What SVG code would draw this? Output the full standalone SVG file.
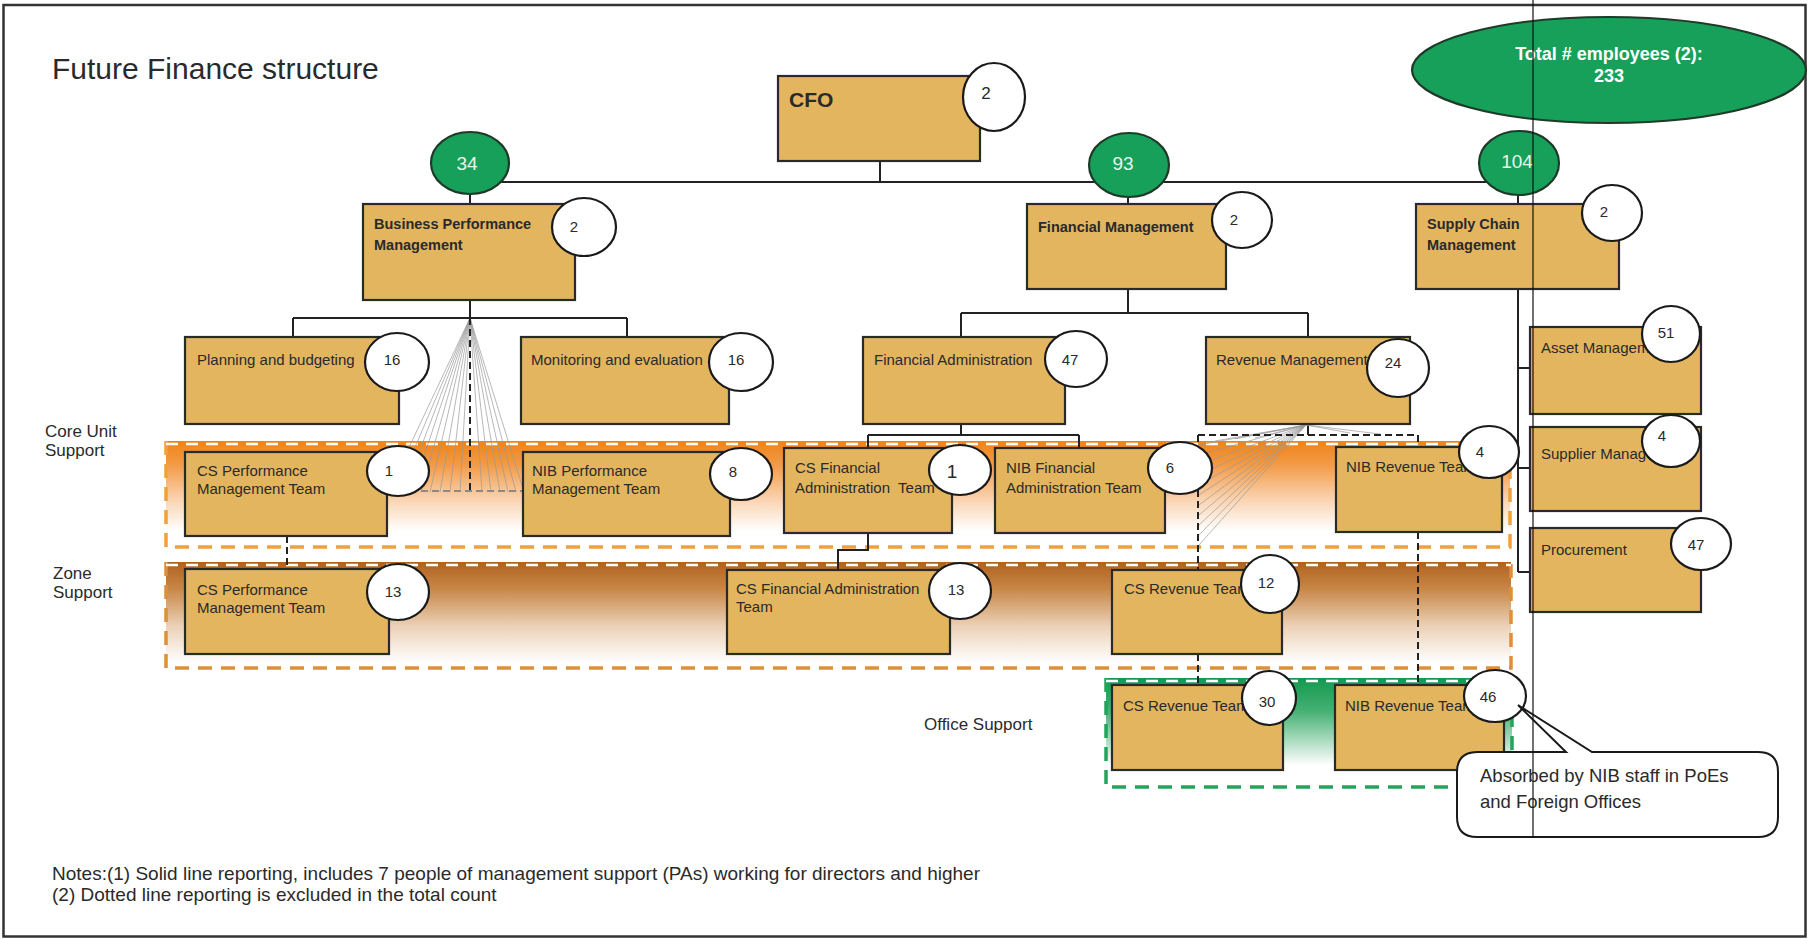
<svg xmlns="http://www.w3.org/2000/svg" width="1809" height="939" viewBox="0 0 1809 939">
<defs>
<style>
.box{fill:#E3B55E;stroke:#2A2A2A;stroke-width:2.2}
.wc{fill:#FFFFFF;stroke:#1A1A1A;stroke-width:2.2}
.gc{fill:#17A05A;stroke:#1F3A28;stroke-width:2.2}
text{font-family:"Liberation Sans",Arial,sans-serif;fill:#2A2A2A}
.t{font-size:15px}
.tb{font-size:14.5px;font-weight:bold}
.n{font-size:15px;text-anchor:middle}
.gn{font-size:19px;fill:#E8F6EC;text-anchor:middle}
.ln{stroke:#222;stroke-width:2;fill:none}
.dl{stroke:#222;stroke-width:2;fill:none;stroke-dasharray:7 4}
.gd{stroke:#8A8A8A;stroke-width:2;fill:none;stroke-dasharray:7 4}
.fan{stroke:#9A9A9A;stroke-width:0.7;fill:none}
.side{font-size:17px}
</style>
<linearGradient id="gOr" x1="0" y1="0" x2="0" y2="1">
<stop offset="0" stop-color="#EE8418"/>
<stop offset="0.22" stop-color="#F29A45"/>
<stop offset="0.55" stop-color="#FAD3B0"/>
<stop offset="0.85" stop-color="#FFFFFF"/>
</linearGradient>
<linearGradient id="gBr" x1="0" y1="0" x2="0" y2="1">
<stop offset="0" stop-color="#B0621F"/>
<stop offset="0.25" stop-color="#C88646"/>
<stop offset="0.6" stop-color="#EBD0B5"/>
<stop offset="0.95" stop-color="#FFFFFF"/>
</linearGradient>
<linearGradient id="gGr" x1="0" y1="0" x2="0" y2="1">
<stop offset="0" stop-color="#14994F"/>
<stop offset="0.3" stop-color="#45B073"/>
<stop offset="0.8" stop-color="#FFFFFF"/>
</linearGradient>
</defs>

<rect x="0" y="0" width="1809" height="939" fill="#FFFFFF"/>
<rect id="frame" x="3.5" y="5" width="1802" height="931.5" fill="none" stroke="#333" stroke-width="2.5"/>

<text x="52" y="79" style="font-size:30px">Future Finance structure</text>

<g id="bands">
<rect x="166" y="441" width="1344" height="106" fill="url(#gOr)"/>
<path d="M166,441 V547 H1510 V441" fill="none" stroke="#F2A13A" stroke-width="3.5" stroke-dasharray="14 9"/>
<path d="M166,444 H1510" stroke="#FFFFFF" stroke-width="2.5" stroke-dasharray="12 8"/>
<rect x="166" y="562" width="1345" height="106" fill="url(#gBr)"/>
<path d="M166,562 V668 H1511 V562" fill="none" stroke="#DE8F3A" stroke-width="3.5" stroke-dasharray="14 9"/>
<path d="M166,565 H1511" stroke="#FFFFFF" stroke-width="2.5" stroke-dasharray="12 8"/>
<rect x="1106" y="678" width="406" height="109" fill="url(#gGr)"/>
<path d="M1106,678 V787 H1512 V678" fill="none" stroke="#22A55A" stroke-width="3.5" stroke-dasharray="14 9"/>
<path d="M1106,681 H1512" stroke="#FFFFFF" stroke-width="2.5" stroke-dasharray="12 8"/>
</g>

<g id="side-labels">
<text class="side" x="45" y="437">Core Unit</text>
<text class="side" x="45" y="456">Support</text>
<text class="side" x="53" y="579">Zone</text>
<text class="side" x="53" y="598">Support</text>
<text class="side" x="924" y="730">Office Support</text>
</g>

<g id="connectors">
<path class="ln" d="M880,161 V182 M471,182 H1518 M470,193 V204 M1128,198 V204 M1518,195 V204"/>
<path class="ln" d="M470,300 V318 M293,318 H627 M293,318 V337 M627,318 V337"/>
<path class="ln" d="M1128,289 V313 M961,313 H1308 M961,313 V337 M1308,313 V337"/>
<path class="ln" d="M961,424 V435 M868,435 H1079 M868,435 V448 M1079,435 V448"/>
<path class="ln" d="M868,533 V550 H838 V570"/>
<path class="ln" d="M1518,289 V572 M1518,368 H1530 M1518,468 H1530 M1518,572 H1530"/>
<path class="ln" d="M1308,424 V435"/>
<path class="fan" d="M470,318 L388,492 M470,318 L396,492 M470,318 L404,492 M470,318 L412,492 M470,318 L421,492 M470,318 L430,492 M470,318 L440,492 M470,318 L450,492 M470,318 L460,492 M470,318 L482,492 M470,318 L491,492 M470,318 L500,492 M470,318 L508,492 M470,318 L516,492 M470,318 L524,492"/>
<path class="fan" d="M1306,425 L1199,445 M1306,425 L1199,455 M1306,425 L1199,465 M1306,425 L1199,475 M1306,425 L1199,485 M1306,425 L1199,495 M1306,425 L1199,505 M1306,425 L1199,515 M1306,425 L1199,525 M1306,425 L1199,535 M1306,425 L1199,545 M1306,425 L1215,441 M1306,425 L1235,439 M1306,425 L1255,438 M1306,425 L1350,433 M1306,425 L1380,434"/>
<path class="dl" d="M470,318 V491"/>
<path class="gd" d="M388,491 H523"/>
<path class="dl" d="M287,536 V569"/>
<path class="dl" d="M1198,435 H1418 M1198,435 V570 M1198,654 V685 M1418,435 V447 M1418,532 V685"/>
</g>

<g id="total">
<ellipse cx="1609" cy="70" rx="197" ry="53" class="gc" stroke-width="1.5"/>
<text x="1609" y="60" style="font-size:18px;font-weight:bold;fill:#FFFFFF;text-anchor:middle">Total # employees (2):</text>
<text x="1609" y="82" style="font-size:18px;font-weight:bold;fill:#FFFFFF;text-anchor:middle">233</text>
</g>

<g id="cfo">
<rect class="box" x="778" y="76" width="202" height="85"/>
<text x="789" y="107" style="font-size:21px;font-weight:bold">CFO</text>
<ellipse class="wc" cx="994" cy="97" rx="31" ry="34"/>
<text class="n" x="986" y="99" style="font-size:17px">2</text>
</g>

<g id="g34"><ellipse class="gc" cx="470" cy="163" rx="39" ry="31"/><text class="gn" x="467" y="170">34</text></g>
<g id="g93"><ellipse class="gc" cx="1129" cy="165" rx="40" ry="32"/><text class="gn" x="1123" y="170">93</text></g>
<g id="g104"><ellipse class="gc" cx="1519" cy="163" rx="40" ry="32"/><text class="gn" x="1517" y="168">104</text></g>

<g id="bpm">
<rect class="box" x="363" y="204" width="212" height="96"/>
<text class="tb" x="374" y="229">Business Performance</text>
<text class="tb" x="374" y="250">Management</text>
<ellipse class="wc" cx="584" cy="227" rx="32" ry="29"/>
<text class="n" x="574" y="232">2</text>
</g>

<g id="fm">
<rect class="box" x="1027" y="204" width="199" height="85"/>
<text class="tb" x="1038" y="232">Financial Management</text>
<ellipse class="wc" cx="1242" cy="220" rx="30" ry="28"/>
<text class="n" x="1234" y="225">2</text>
</g>

<g id="scm">
<rect class="box" x="1416" y="204" width="203" height="85"/>
<text class="tb" x="1427" y="229">Supply Chain</text>
<text class="tb" x="1427" y="250">Management</text>
<ellipse class="wc" cx="1612" cy="213" rx="30" ry="28"/>
<text class="n" x="1604" y="217">2</text>
</g>

<g id="planning">
<rect class="box" x="185" y="337" width="214" height="87"/>
<text class="t" x="197" y="365">Planning and budgeting</text>
<ellipse class="wc" cx="397" cy="362" rx="32" ry="29"/>
<text class="n" x="392" y="365">16</text>
</g>

<g id="monitoring">
<rect class="box" x="521" y="337" width="208" height="87"/>
<text class="t" x="531" y="365">Monitoring and evaluation</text>
<ellipse class="wc" cx="741" cy="362" rx="32" ry="29"/>
<text class="n" x="736" y="365">16</text>
</g>

<g id="finadmin">
<rect class="box" x="863" y="337" width="202" height="87"/>
<text class="t" x="874" y="365">Financial Administration</text>
<ellipse class="wc" cx="1076" cy="359" rx="31" ry="28"/>
<text class="n" x="1070" y="365">47</text>
</g>

<g id="revmgmt">
<rect class="box" x="1206" y="337" width="204" height="87"/>
<text class="t" x="1216" y="365">Revenue Management</text>
<ellipse class="wc" cx="1398" cy="368" rx="31" ry="29"/>
<text class="n" x="1393" y="368">24</text>
</g>

<g id="asset">
<rect class="box" x="1530" y="327" width="171" height="87"/>
<text class="t" x="1541" y="353">Asset Management</text>
<ellipse class="wc" cx="1671" cy="334" rx="29" ry="28"/>
<text class="n" x="1666" y="338">51</text>
</g>

<g id="supplier">
<rect class="box" x="1530" y="427" width="171" height="84"/>
<text class="t" x="1541" y="459">Supplier Management</text>
<ellipse class="wc" cx="1671" cy="441" rx="29" ry="26"/>
<text class="n" x="1662" y="441">4</text>
</g>

<g id="procurement">
<rect class="box" x="1530" y="528" width="171" height="84"/>
<text class="t" x="1541" y="555">Procurement</text>
<ellipse class="wc" cx="1701" cy="544" rx="30" ry="26"/>
<text class="n" x="1696" y="550">47</text>
</g>

<g id="cs-perf-core">
<rect class="box" x="185" y="452" width="202" height="84"/>
<text class="t" x="197" y="476">CS Performance</text>
<text class="t" x="197" y="494">Management Team</text>
<ellipse class="wc" cx="398" cy="471" rx="31" ry="25"/>
<text class="n" x="389" y="476">1</text>
</g>

<g id="nib-perf-core">
<rect class="box" x="523" y="452" width="207" height="84"/>
<text class="t" x="532" y="476">NIB Performance</text>
<text class="t" x="532" y="494">Management Team</text>
<ellipse class="wc" cx="741" cy="474" rx="31" ry="26"/>
<text class="n" x="733" y="477">8</text>
</g>

<g id="cs-fa-core">
<rect class="box" x="784" y="448" width="168" height="85"/>
<text class="t" x="795" y="473">CS Financial</text>
<text class="t" x="795" y="493" style="white-space:pre">Administration  Team</text>
<ellipse class="wc" cx="960" cy="470" rx="31" ry="25"/>
<text class="n" x="952" y="478" style="font-size:19px">1</text>
</g>

<g id="nib-fa-core">
<rect class="box" x="995" y="448" width="170" height="85"/>
<text class="t" x="1006" y="473">NIB Financial</text>
<text class="t" x="1006" y="493">Administration Team</text>
<ellipse class="wc" cx="1180" cy="468" rx="32" ry="26"/>
<text class="n" x="1170" y="473">6</text>
</g>

<g id="nib-rev-core">
<rect class="box" x="1336" y="447" width="166" height="85"/>
<text class="t" x="1346" y="472">NIB Revenue Team</text>
<ellipse class="wc" cx="1489" cy="452" rx="30" ry="26"/>
<text class="n" x="1480" y="457">4</text>
</g>

<g id="cs-perf-zone">
<rect class="box" x="185" y="569" width="204" height="85"/>
<text class="t" x="197" y="595">CS Performance</text>
<text class="t" x="197" y="613">Management Team</text>
<ellipse class="wc" cx="398" cy="592" rx="31" ry="28"/>
<text class="n" x="393" y="597">13</text>
</g>

<g id="cs-fa-zone">
<rect class="box" x="727" y="570" width="223" height="84"/>
<text class="t" x="736" y="594">CS Financial Administration</text>
<text class="t" x="736" y="612">Team</text>
<ellipse class="wc" cx="960" cy="591" rx="31" ry="28"/>
<text class="n" x="956" y="595">13</text>
</g>

<g id="cs-rev-zone">
<rect class="box" x="1112" y="570" width="170" height="84"/>
<text class="t" x="1124" y="594">CS Revenue Team</text>
<ellipse class="wc" cx="1270" cy="584" rx="29" ry="29"/>
<text class="n" x="1266" y="588">12</text>
</g>

<g id="cs-rev-office">
<rect class="box" x="1112" y="685" width="171" height="85"/>
<text class="t" x="1123" y="711">CS Revenue Team</text>
<ellipse class="wc" cx="1269" cy="698" rx="27" ry="27"/>
<text class="n" x="1267" y="707">30</text>
</g>

<g id="nib-rev-office">
<rect class="box" x="1335" y="685" width="169" height="85"/>
<text class="t" x="1345" y="711">NIB Revenue Team</text>
<ellipse class="wc" cx="1495" cy="696" rx="31" ry="26"/>
<text class="n" x="1488" y="702">46</text>
</g>

<g id="callout">
<path d="M1478,752 H1566 L1518,705 L1592,752 H1758 Q1778,752 1778,772 V817 Q1778,837 1758,837 H1477 Q1457,837 1457,817 V772 Q1457,752 1478,752 Z" fill="#FFFFFF" stroke="#1A1A1A" stroke-width="2"/>
<text x="1480" y="782" style="font-size:18.5px">Absorbed by NIB staff in PoEs</text>
<text x="1480" y="808" style="font-size:18.5px">and Foreign Offices</text>
</g>

<g id="notes">
<text x="52" y="880" style="font-size:19px">Notes:(1) Solid line reporting, includes 7 people of management support (PAs) working for directors and higher</text>
<text x="52" y="901" style="font-size:19px">(2) Dotted line reporting is excluded in the total count</text>
</g>

<path id="guide-line" d="M1533,0 V837" stroke="#111" stroke-width="1.2"/>
</svg>
